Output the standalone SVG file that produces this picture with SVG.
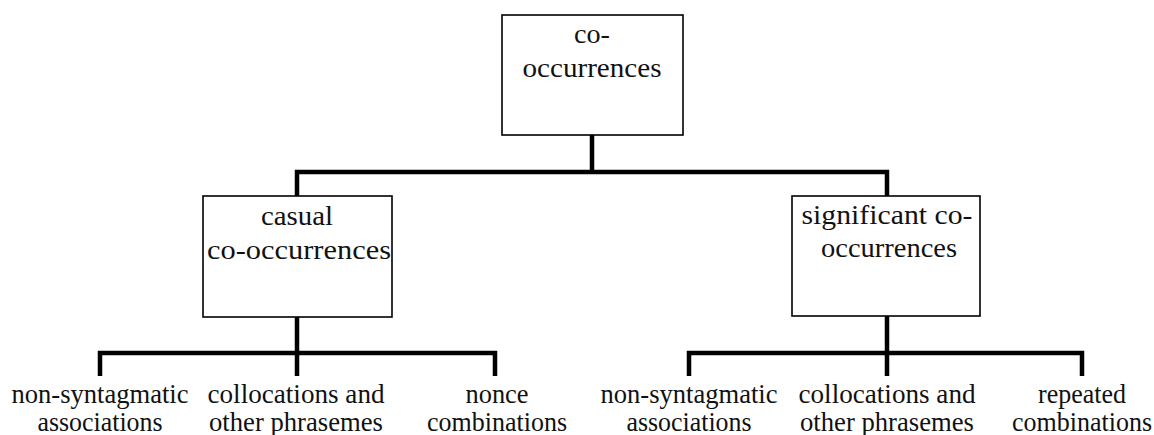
<svg xmlns="http://www.w3.org/2000/svg" width="1154" height="435" viewBox="0 0 1154 435">
<style>
.box{fill:#fff;stroke:#000;stroke-width:1.6}
.t{font-family:"Liberation Serif","Times New Roman",serif;font-size:28px;fill:#111;text-anchor:middle}
.b{font-family:"Liberation Serif","Times New Roman",serif;font-size:26.5px;fill:#111;text-anchor:middle}
.c{fill:none;stroke:#000;stroke-width:4.5;stroke-linecap:butt;stroke-linejoin:miter}
</style>
<rect width="1154" height="435" fill="#fff"/>
<g id="connectors">
<path class="c" d="M592,135 V172"/>
<path class="c" d="M297,196 V172 H887 V196"/>
<path class="c" d="M297,317 V353"/>
<path class="c" d="M100,376 V353 H495 V376"/>
<path class="c" d="M297,353 V376"/>
<path class="c" d="M887,316 V353"/>
<path class="c" d="M689,376 V353 H1082 V376"/>
<path class="c" d="M887,353 V376"/>
</g>
<g id="root">
<rect class="box" x="502" y="15" width="181" height="120"/>
<text class="t" x="592" y="43" textLength="36" lengthAdjust="spacingAndGlyphs">co-</text>
<text class="t" x="592" y="77" textLength="139" lengthAdjust="spacingAndGlyphs">occurrences</text>
</g>
<g id="casual">
<rect class="box" x="203" y="196" width="189" height="121"/>
<text class="t" x="297" y="225" textLength="72" lengthAdjust="spacingAndGlyphs">casual</text>
<text class="t" x="299" y="259" textLength="184" lengthAdjust="spacingAndGlyphs">co-occurrences</text>
</g>
<g id="significant">
<rect class="box" x="792" y="196" width="188" height="120"/>
<text class="t" x="887" y="224" textLength="171" lengthAdjust="spacingAndGlyphs">significant co-</text>
<text class="t" x="889" y="257" textLength="136" lengthAdjust="spacingAndGlyphs">occurrences</text>
</g>
<g id="casual-nonsyntagmatic">
<text class="b" x="100" y="403" textLength="177" lengthAdjust="spacingAndGlyphs">non-syntagmatic</text>
<text class="b" x="100" y="431" textLength="125" lengthAdjust="spacingAndGlyphs">associations</text>
</g>
<g id="casual-collocations">
<text class="b" x="296" y="403" textLength="177" lengthAdjust="spacingAndGlyphs">collocations and</text>
<text class="b" x="296" y="431" textLength="174" lengthAdjust="spacingAndGlyphs">other phrasemes</text>
</g>
<g id="casual-nonce">
<text class="b" x="497" y="403" textLength="63" lengthAdjust="spacingAndGlyphs">nonce</text>
<text class="b" x="497" y="431" textLength="140" lengthAdjust="spacingAndGlyphs">combinations</text>
</g>
<g id="significant-nonsyntagmatic">
<text class="b" x="689" y="403" textLength="177" lengthAdjust="spacingAndGlyphs">non-syntagmatic</text>
<text class="b" x="689" y="431" textLength="125" lengthAdjust="spacingAndGlyphs">associations</text>
</g>
<g id="significant-collocations">
<text class="b" x="887" y="403" textLength="177" lengthAdjust="spacingAndGlyphs">collocations and</text>
<text class="b" x="887" y="431" textLength="174" lengthAdjust="spacingAndGlyphs">other phrasemes</text>
</g>
<g id="significant-repeated">
<text class="b" x="1082" y="403" textLength="88" lengthAdjust="spacingAndGlyphs">repeated</text>
<text class="b" x="1082" y="431" textLength="140" lengthAdjust="spacingAndGlyphs">combinations</text>
</g>
</svg>
